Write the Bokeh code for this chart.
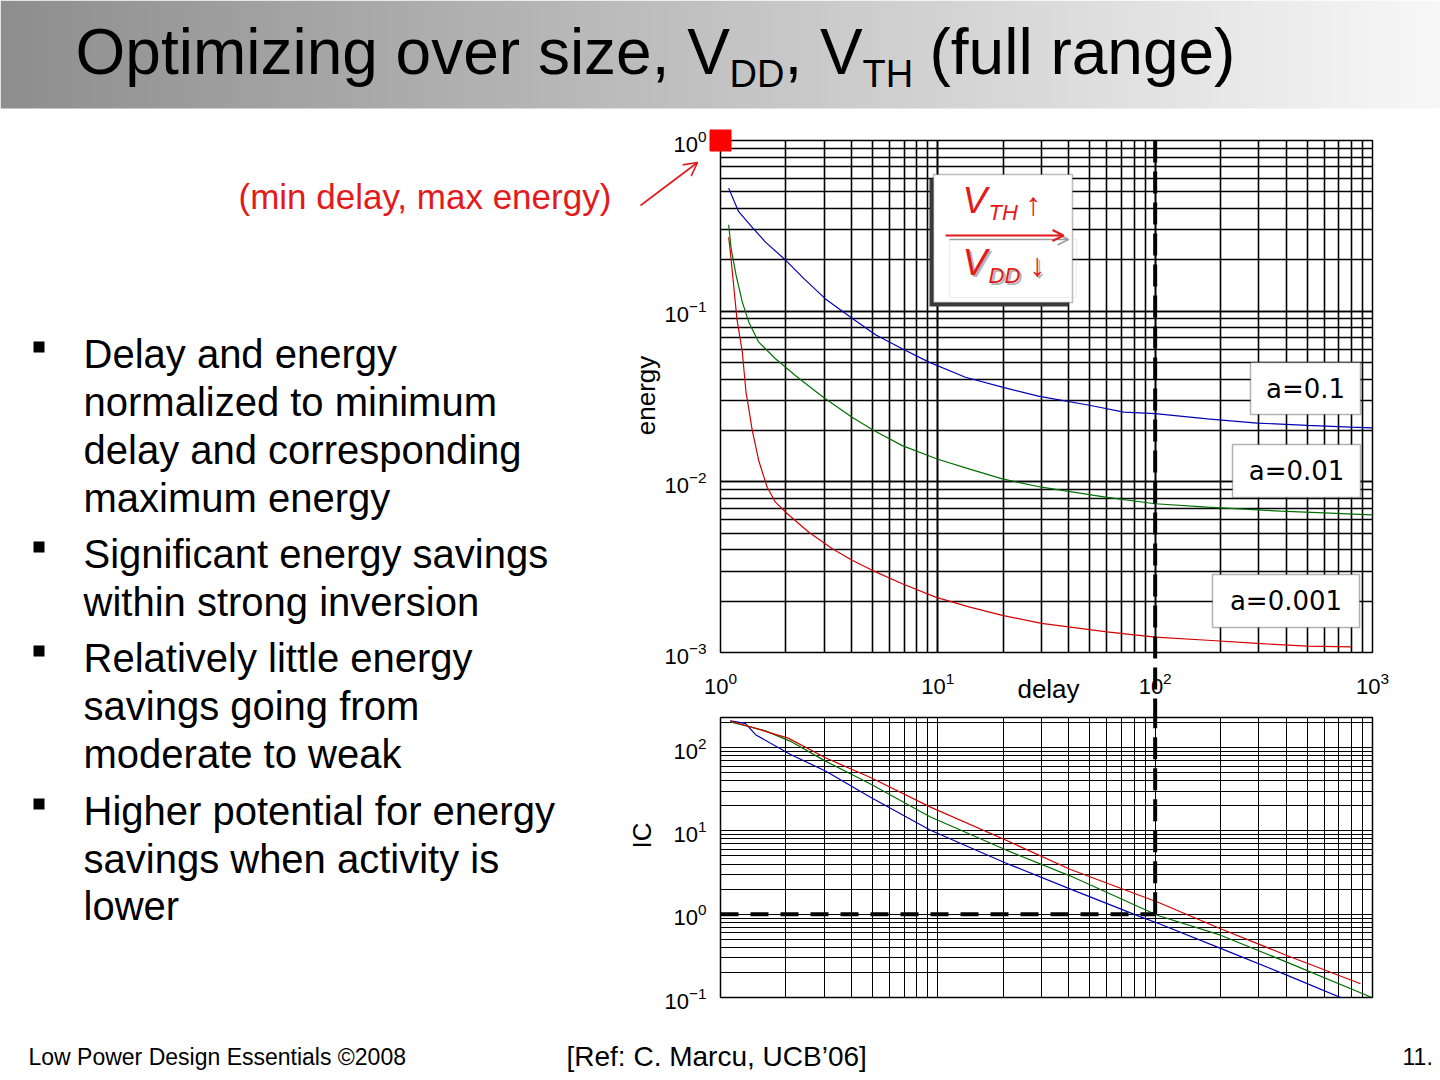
import math
from bokeh.plotting import figure
from bokeh.models import Range1d, Label, BoxAnnotation, Arrow, OpenHead
from bokeh.layouts import column, row
from bokeh.embed import file_html
from bokeh.resources import INLINE
from bokeh.core.properties import value

FONT = "Liberation Sans"

# ---------------- data ----------------
delay_a01 = [1.09, 1.21, 1.40, 1.61, 1.96, 2.42, 3.04, 4.03, 5.17, 6.86, 9.1, 13.4, 19.8, 29.0,
             50.5, 71.8, 100, 174, 295, 501, 794, 1000]
energy_a01 = [0.526, 0.384, 0.31, 0.254, 0.203, 0.155, 0.118, 0.091, 0.0728, 0.0602, 0.0503, 0.041,
              0.0359, 0.0318, 0.028, 0.0256, 0.0251, 0.0234, 0.0221, 0.0214, 0.0209, 0.0207]

delay_a001 = [1.09, 1.12, 1.18, 1.26, 1.35, 1.50, 1.79, 2.21, 2.83, 3.04, 4.03, 5.08, 6.86, 9.93,
              13.9, 19.8, 30, 60, 100, 174, 378, 1000]
energy_a001 = [0.321, 0.232, 0.162, 0.113, 0.0862, 0.0658, 0.0526, 0.042, 0.0328, 0.0307, 0.0239,
               0.020, 0.0163, 0.0136, 0.0119, 0.0104, 0.0093, 0.0081, 0.00744, 0.00711, 0.00673, 0.0064]

delay_a0001 = [1.09, 1.11, 1.15, 1.19, 1.26, 1.31, 1.33, 1.40, 1.50, 1.64, 1.79, 2.03, 2.55, 3.27,
               4.03, 4.99, 6.86, 9.76, 13.9, 19.8, 30, 60, 100, 174, 295, 501, 800]
energy_a0001 = [0.271, 0.222, 0.141, 0.0902, 0.0575, 0.0336, 0.030, 0.020, 0.0133, 0.0093, 0.0076,
                0.0065, 0.00507, 0.00405, 0.00347, 0.00303, 0.00253, 0.00211, 0.00185, 0.00165,
                0.00148, 0.00132, 0.00123, 0.00118, 0.00113, 0.00109, 0.00108]

ic_delay_a01 = [1.11, 1.30, 1.45, 2.10, 3.04, 4.9, 9.25, 20.5, 40.8, 85.7, 103, 200, 398, 733]
ic_a01 = [209, 196, 143, 82.6, 52.5, 25.4, 10.2, 4.12, 2.0, 0.93, 0.78, 0.389, 0.188, 0.097]

ic_delay_a001 = [1.11, 1.61, 2.10, 3.04, 4.9, 9.25, 20.5, 40.8, 103, 200, 398, 1000]
ic_a001 = [204, 159, 119, 68.9, 36.5, 14.7, 5.93, 2.87, 0.964, 0.56, 0.27, 0.0995]

ic_delay_a0001 = [1.11, 2.05, 3.04, 4.9, 9.25, 20.5, 40.8, 103, 200, 398, 881]
ic_a0001 = [209, 130, 75.5, 43.8, 19.3, 7.78, 3.44, 1.39, 0.67, 0.324, 0.146]

delay_limit = 100      # vertical dashed marker
ic_limit = 1           # horizontal dashed marker
min_point = (1, 1)     # (min delay, max energy)

series_labels = ["a=0.1", "a=0.01", "a=0.001"]
series_colors = ["#0000b4", "#007000", "#d40000"]

bullets = [
    ["Delay and energy", "normalized to minimum", "delay and corresponding", "maximum energy"],
    ["Significant energy savings", "within strong inversion"],
    ["Relatively little energy", "savings going from", "moderate to weak"],
    ["Higher potential for energy", "savings when activity is", "lower"],
]

RED = "#e31a1c"

def mlabel(p, x, y, text, size, color="black", font=FONT, align="left", style="normal",
           level="annotation"):
    p.add_layout(Label(x=x, y=y, text=text, text_font=font, text_font_size=size,
                       text_color=color, text_baseline="middle", text_align=align,
                       text_font_style=style, level=level))

# ---------------- title bar ----------------
title = figure(width=1440, height=110, x_range=Range1d(0, 1440), y_range=Range1d(110, 0),
               x_axis_type=None, y_axis_type=None, toolbar_location=None,
               output_backend="svg", min_border=0)
title.outline_line_color = None
n = 144
lefts = [i * 1440 / n for i in range(n)]
rights = [(i + 1) * 1440 / n + 0.5 for i in range(n)]
cols = []
for i in range(n):
    t = i / (n - 1)
    v = int(round(0x8e + (0xf7 - 0x8e) * t))
    cols.append("#%02x%02x%02x" % (v, v, v))
title.quad(left=lefts, right=rights, top=0, bottom=108, fill_color=cols, line_color=None)

mlabel(title, 75, 51, "Optimizing over size, V", "64px")
mlabel(title, 729, 73, "DD", "38px")
mlabel(title, 784, 51, ", V", "64px")
mlabel(title, 862, 73, "TH", "38px")
mlabel(title, 929, 51, "(full range)", "64px")

# ---------------- left text ----------------
LW = 620
left = figure(width=LW, height=920, x_range=Range1d(0, LW), y_range=Range1d(1030, 110),
              x_axis_type=None, y_axis_type=None, toolbar_location=None,
              output_backend="svg", min_border=0)
left.outline_line_color = None

centers = [[353, 401, 449, 497], [553, 601], [657, 705, 753], [810, 858, 905]]
for lines, cs in zip(bullets, centers):
    c0 = cs[0]
    left.add_layout(BoxAnnotation(left=33, right=44, top=c0 - 12, bottom=c0 - 1,
                                  fill_color="black", fill_alpha=1, line_color=None))
    for txt, c in zip(lines, cs):
        mlabel(left, 83, c, txt, "40px")

mlabel(left, 238, 196, "(min delay, max energy)", "35px", color=RED)

# ---------------- charts ----------------
MBL = 720 - LW
top = figure(x_axis_type="log", y_axis_type="log", x_range=Range1d(1, 1000),
             y_range=Range1d(1e-3, 1), frame_width=652, frame_height=512,
             min_border_left=MBL, min_border_right=68, min_border_top=30, min_border_bottom=64,
             toolbar_location=None, output_backend="svg")
bottom = figure(x_axis_type="log", y_axis_type="log", x_range=top.x_range,
                y_range=Range1d(0.1, 230), frame_width=652, frame_height=280,
                min_border_left=MBL, min_border_right=68, min_border_top=1, min_border_bottom=33,
                toolbar_location=None, output_backend="svg")

for p, gw in ((top, 1.6), (bottom, 1.0)):
    p.outline_line_color = "black"
    p.outline_line_width = 1.5
    for ax in (p.xaxis[0], p.yaxis[0]):
        ax.ticker.num_minor_ticks = 10
        ax.major_tick_line_color = None
        ax.minor_tick_line_color = None
        ax.axis_line_color = None
        ax.major_label_text_font = FONT
        ax.major_label_text_font_size = "22px"
        ax.major_label_text_color = "black"
        ax.major_label_standoff = 8
    for g in (p.xgrid[0], p.ygrid[0]):
        g.grid_line_color = "black"
        g.grid_line_width = gw
        g.grid_line_alpha = 1
        g.minor_grid_line_color = "black"
        g.minor_grid_line_width = gw
        g.minor_grid_line_alpha = 1
top.xaxis[0].major_label_standoff = 13
bottom.xaxis.visible = False

for d, e, c in zip([delay_a01, delay_a001, delay_a0001],
                   [energy_a01, energy_a001, energy_a0001], series_colors):
    top.line(d, e, line_color=c, line_width=1.2)
for d, e, c in zip([ic_delay_a01, ic_delay_a001, ic_delay_a0001],
                   [ic_a01, ic_a001, ic_a0001], series_colors):
    bottom.line(d, e, line_color=c, line_width=1.2)

top.line([delay_limit, delay_limit], [1, 1e-6], line_color="black", line_width=4,
         line_dash="22 9", level="overlay")
bottom.line([delay_limit, delay_limit], [ic_limit, 1e6], line_color="black", line_width=4,
            line_dash="22 9", level="overlay")
bottom.line([1, delay_limit], [ic_limit, ic_limit], line_color="black", line_width=4,
            line_dash="18 12", level="overlay")
top.scatter([min_point[0]], [min_point[1]], marker="square", size=21, fill_color="#ff0000",
            line_color="#ff0000", level="overlay")

# pixel -> data helpers for annotation placement (frame: x 720..1372, y 140..652 / 717..997)
def tx(px):
    return 10 ** ((px - 720) / (652 / 3))

def ty(py):
    return 10 ** (-(py - 140) / (512 / 3))

BDEC = 280 / math.log10(2300)

def by(py):
    return 10 ** (math.log10(230) - (py - 717) / BDEC)

# axis titles (overlay text glyphs so that they are drawn outside the frame)
top.text(x=[tx(645)], y=[ty(395)], text=["energy"], angle=math.pi / 2, text_font=value(FONT),
         text_font_size="26px", text_align="center", text_baseline="middle", level="overlay")
top.text(x=[tx(1048)], y=[ty(688)], text=["delay"], text_font=value(FONT),
         text_font_size="26px", text_align="center", text_baseline="middle", level="overlay")
bottom.text(x=[tx(641)], y=[by(835)], text=["IC"], angle=math.pi / 2, text_font=value(FONT),
            text_font_size="26px", text_align="center", text_baseline="middle", level="overlay")

# series boxes
for lab, (x0, x1, y0, y1) in zip(series_labels, [(1250, 1360, 362, 414), (1232, 1360, 444, 497),
                                                 (1212, 1359, 574, 627)]):
    top.add_layout(BoxAnnotation(left=tx(x0), right=tx(x1), top=ty(y0), bottom=ty(y1),
                                 fill_color="white", fill_alpha=1, line_color="black",
                                 line_width=1.5, level="overlay"))
    mlabel(top, tx((x0 + x1) / 2), ty((y0 + y1) / 2), lab, "26px", font="DejaVu Sans",
           align="center", level="overlay")

# VTH / VDD box
top.add_layout(BoxAnnotation(left=tx(929), right=tx(1068), top=ty(178), bottom=ty(306),
                             fill_color="#3a3a3a", fill_alpha=1, line_color=None, level="overlay"))
top.add_layout(BoxAnnotation(left=tx(933), right=tx(1072), top=ty(174), bottom=ty(302),
                             fill_color="white", fill_alpha=1, line_color="#222222",
                             line_width=1.5, level="overlay"))
top.add_layout(BoxAnnotation(left=tx(949), right=tx(1076), top=ty(239), bottom=ty(297),
                             fill_alpha=0, line_color="#c8c8c8", line_width=1.2, level="overlay"))

def vlabel(x, y, text, size, color, italic=True):
    mlabel(top, tx(x), ty(y), text, size, color=color, style="italic" if italic else "normal",
           level="overlay")

vlabel(962, 200, "V", "37px", RED)
vlabel(988, 212, "TH", "22px", RED)
vlabel(1025, 203, "\u2191", "32px", RED, italic=False)
vlabel(964, 264, "V", "37px", "#b4b4b4")
vlabel(990, 277, "DD", "22px", "#b4b4b4")
vlabel(1031, 266, "\u2193", "32px", "#b4b4b4", italic=False)
vlabel(962, 262, "V", "37px", RED)
vlabel(988, 275, "DD", "22px", RED)
vlabel(1029, 264, "\u2193", "32px", RED, italic=False)

top.add_layout(Arrow(x_start=tx(949), y_start=ty(239), x_end=tx(1068), y_end=ty(239),
                     line_color="#9a9a9a", line_width=1.5, level="overlay",
                     end=OpenHead(size=11, line_color="#9a9a9a", line_width=1.5)))
top.add_layout(Arrow(x_start=tx(945), y_start=ty(235), x_end=tx(1063), y_end=ty(235),
                     line_color=RED, line_width=2, level="overlay",
                     end=OpenHead(size=11, line_color=RED, line_width=2)))

# pointer arrow to the (min delay, max energy) point, drawn as overlay lines
sx0, sy0, sx1, sy1 = 640, 205, 697, 162
ang = math.atan2(sy1 - sy0, sx1 - sx0)
hx, hy = [], []
for da in (math.radians(28), -math.radians(28)):
    hx.append(sx1 - 15 * math.cos(ang + da))
    hy.append(sy1 - 15 * math.sin(ang + da))
top.line([tx(sx0), tx(sx1)], [ty(sy0), ty(sy1)], line_color=RED, line_width=1.6, level="overlay")
top.line([tx(hx[0]), tx(sx1), tx(hx[1])], [ty(hy[0]), ty(sy1), ty(hy[1])], line_color=RED,
         line_width=1.6, level="overlay")

# ---------------- footer ----------------
foot = figure(width=1440, height=50, x_range=Range1d(0, 1440), y_range=Range1d(1080, 1030),
              x_axis_type=None, y_axis_type=None, toolbar_location=None,
              output_backend="svg", min_border=0)
foot.outline_line_color = None
NARROW = "Liberation Sans Narrow, Liberation Sans"
mlabel(foot, 28, 1056, "Low Power Design Essentials \u00a92008", "23px", font=NARROW)
mlabel(foot, 566, 1056, "[Ref: C. Marcu, UCB\u201906]", "28px")
mlabel(foot, 1402, 1056, "11.", "23px", font=NARROW)

layout = column(title, row(left, column(top, bottom)), foot)
open("out.html", "w").write(file_html(layout, INLINE))
